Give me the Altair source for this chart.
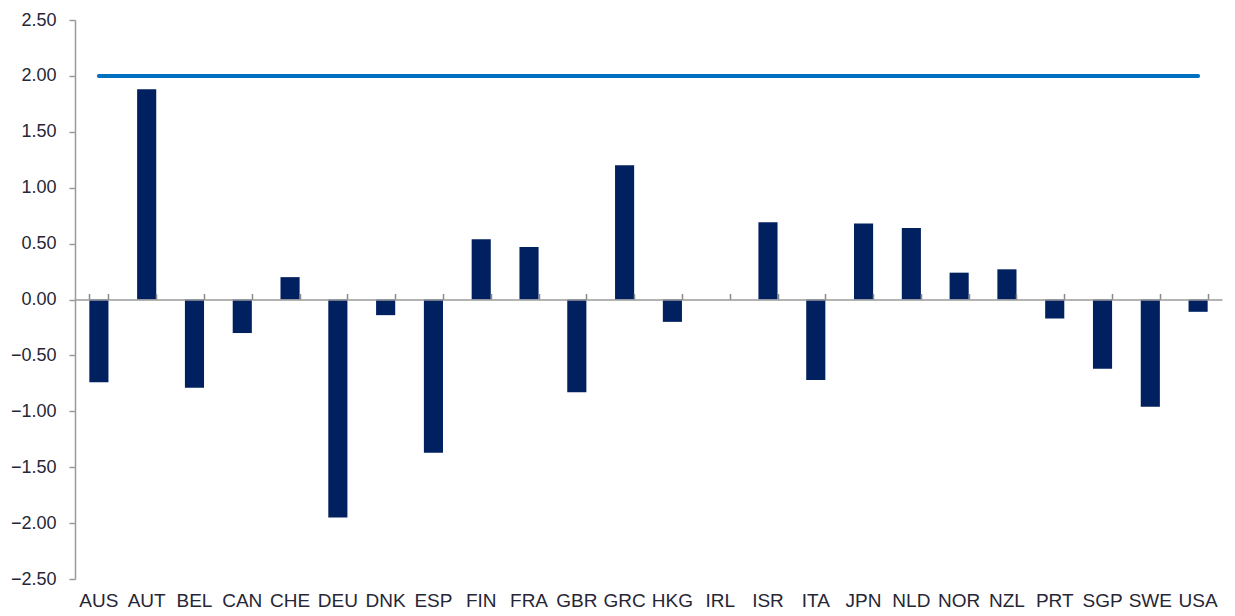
import altair as alt
import pandas as pd

countries = ["AUS", "AUT", "BEL", "CAN", "CHE", "DEU", "DNK", "ESP", "FIN", "FRA",
             "GBR", "GRC", "HKG", "IRL", "ISR", "ITA", "JPN", "NLD", "NOR", "NZL",
             "PRT", "SGP", "SWE", "USA"]
values = [-0.74, 1.88, -0.79, -0.30, 0.20, -1.95, -0.14, -1.37, 0.54, 0.47,
          -0.83, 1.20, -0.20, 0.0, 0.69, -0.72, 0.68, 0.64, 0.24, 0.27,
          -0.17, -0.62, -0.96, -0.11]
target = [2.0, 2.0, 2.0, 2.0, 2.0, 2.0, 2.0, 2.0, 2.0, 2.0, 2.0, 2.0,
          2.0, 2.0, 2.0, 2.0, 2.0, 2.0, 2.0, 2.0, 2.0, 2.0, 2.0, 2.0]
y_ticks = [-2.5, -2.0, -1.5, -1.0, -0.5, 0.0, 0.5, 1.0, 1.5, 2.0, 2.5]

df = pd.DataFrame({"country": countries, "value": values, "target": target})

W = 1147
H = 559

xscale = alt.Scale(paddingInner=0.6, paddingOuter=0.3)
yscale = alt.Scale(domain=[-2.5, 2.5], nice=False, zero=False)

bars = alt.Chart(df).mark_bar(color="#002060").encode(
    x=alt.X("country:N", sort=countries, scale=xscale, title=None,
            axis=alt.Axis(labelAngle=0, domain=False, ticks=False, labelPadding=12,
                          labelFontSize=19, labelFont="Liberation Sans", labelColor="#262636")),
    y=alt.Y("value:Q", scale=yscale, title=None,
            axis=alt.Axis(values=y_ticks, format=".2f", grid=False, tickSize=6,
                          labelPadding=13, labelFontSize=18, labelFont="Liberation Sans",
                          labelColor="#262636", domainColor="#9a9a9a", tickColor="#9a9a9a",
                          domainWidth=1.5, tickWidth=1.5)),
)

line = alt.Chart(df).mark_line(color="#0070C0", strokeWidth=4, strokeCap="round").encode(
    x=alt.X("country:N", sort=countries, scale=xscale, title=None,
            axis=alt.Axis(labels=False, domain=True, ticks=True, tickBand="extent",
                          tickSize=6, offset=-H / 2, domainColor="#9a9a9a",
                          tickColor="#8a8a8a", tickWidth=1.5, domainWidth=1.5, zindex=1)),
    y=alt.Y("target:Q", scale=yscale, title=None),
)

chart = alt.layer(bars, line).resolve_axis(x="independent").properties(
    width=W, height=H,
    autosize=alt.AutoSizeParams(type="none"),
    padding={"left": 67, "top": 12, "right": 5, "bottom": 40},
).configure_view(stroke=None)

chart.save("out.html", embed_options={"renderer": "svg", "actions": False})
